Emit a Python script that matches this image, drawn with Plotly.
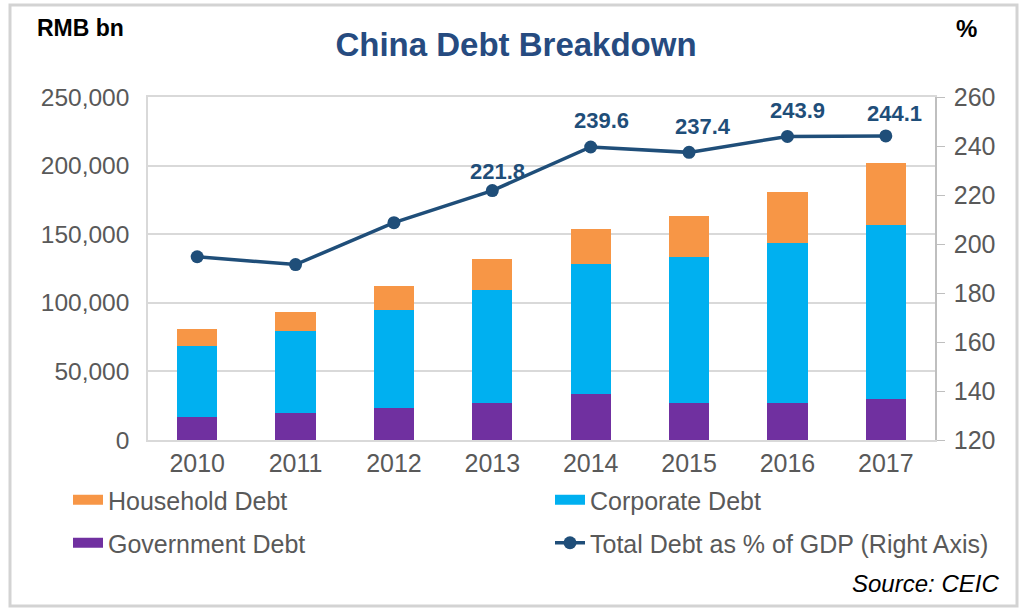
import plotly.graph_objects as go

years = ["2010", "2011", "2012", "2013", "2014", "2015", "2016", "2017"]
government = [16500, 19500, 23500, 26700, 33500, 26700, 26700, 29700]
corporate = [52200, 60200, 71200, 82600, 94800, 106400, 117100, 127000]
household = [12000, 13800, 17500, 22600, 25300, 30300, 37200, 45200]
debt_pct_gdp = [194.8, 191.6, 208.7, 221.8, 239.6, 237.4, 243.9, 244.1]
labelled = [False, False, False, True, True, True, True, True]

FONT = "Liberation Sans, Arial, sans-serif"
GRAY = "#595959"
NAVY = "#1F4E79"
C_HH, C_CORP, C_GOV = "#F79646", "#00B0F0", "#7030A0"

L, R, T, B = 148, 935, 97, 440
W, H = R - L, B - T


def px(x):
    return (x - L) / W


def py(y):
    return (B - y) / H


fig = go.Figure()
fig.add_trace(go.Bar(x=years, y=government, name="Government Debt", showlegend=False,
                     marker=dict(color=C_GOV, line=dict(width=0))))
fig.add_trace(go.Bar(x=years, y=corporate, name="Corporate Debt", showlegend=False,
                     marker=dict(color=C_CORP, line=dict(width=0))))
fig.add_trace(go.Bar(x=years, y=household, name="Household Debt", showlegend=False,
                     marker=dict(color=C_HH, line=dict(width=0))))
fig.add_trace(go.Scatter(x=years, y=debt_pct_gdp, name="Total Debt as % of GDP (Right Axis)",
                         yaxis="y2", mode="lines+markers", legend="legend4",
                         line=dict(color=NAVY, width=3.5),
                         marker=dict(color=NAVY, size=13)))

# legend-only entries drawn as wide swatches (like the reference legend)
for name, col, leg in [("Household Debt", C_HH, "legend"),
                       ("Corporate Debt", C_CORP, "legend2"),
                       ("Government Debt", C_GOV, "legend3")]:
    fig.add_trace(go.Scatter(x=[None], y=[None], mode="lines", name=name, legend=leg,
                             line=dict(color=col, width=14), hoverinfo="skip"))

label_shift = {3: (5, 19), 4: (11, 26), 5: (14, 26), 6: (10, 26), 7: (9, 22)}
annotations = []
for i, (v, show) in enumerate(zip(debt_pct_gdp, labelled)):
    if show:
        dx, dy = label_shift.get(i, (8, 25))
        annotations.append(dict(x=i, y=v, xref="x", yref="y2", text=f"{v:.1f}",
                                showarrow=False, xshift=dx, yshift=dy,
                                font=dict(family=FONT, size=22, color=NAVY, weight="bold")))

annotations += [
    dict(x=px(80), y=py(28), xref="paper", yref="paper", xanchor="center", yanchor="middle",
         text="RMB bn", showarrow=False,
         font=dict(family=FONT, size=23, color="#000000", weight="bold")),
    dict(x=px(966), y=py(29), xref="paper", yref="paper", xanchor="center", yanchor="middle",
         text="%", showarrow=False,
         font=dict(family=FONT, size=24, color="#000000", weight="bold")),
    dict(x=px(1001), y=py(583), xref="paper", yref="paper", xanchor="right", yanchor="middle",
         text="<i>Source: CEIC</i>", showarrow=False,
         font=dict(family=FONT, size=24, color="#000000")),
]

legend_common = dict(orientation="h", xanchor="left", yanchor="middle", itemwidth=30,
                     font=dict(family=FONT, size=25, color=GRAY),
                     bgcolor="rgba(0,0,0,0)")

fig.update_layout(
    width=1024, height=611,
    margin=dict(l=L, r=1024 - R, t=T, b=611 - B),
    paper_bgcolor="white", plot_bgcolor="white",
    barmode="stack", bargap=0.59,
    font=dict(family=FONT, size=25, color=GRAY),
    title=dict(text="<b>China Debt Breakdown</b>", x=516 / 1024, xanchor="center",
               y=1 - 44 / 611, yanchor="middle",
               font=dict(family=FONT, size=33, color="#264B80")),
    xaxis=dict(type="category", showline=True, linecolor="#D9D9D9", linewidth=1.5, mirror=True,
               ticks="", tickfont=dict(size=25, color=GRAY), fixedrange=True),
    yaxis=dict(range=[0, 250000], dtick=50000, tickformat=",", showgrid=True,
               gridcolor="#D9D9D9", gridwidth=1.5, showline=True, linecolor="#D9D9D9",
               linewidth=1.5, zeroline=False, ticks="", tickfont=dict(size=24.5, color=GRAY),
               ticklabelstandoff=12),
    yaxis2=dict(range=[120, 260], dtick=20, overlaying="y", side="right", showgrid=False,
                showline=True, linecolor="#BFBFBF", linewidth=1.5, ticks="outside",
                ticklen=8, tickcolor="#BFBFBF", zeroline=False,
                tickfont=dict(size=25, color=GRAY), ticklabelstandoff=4),
    legend=dict(x=px(68), y=py(500), **legend_common),
    legend2=dict(x=px(550), y=py(500), **legend_common),
    legend3=dict(x=px(68), y=py(543), **legend_common),
    legend4=dict(x=px(550), y=py(543), **legend_common),
    annotations=annotations,
    shapes=[dict(type="rect", xref="paper", yref="paper",
                 x0=px(10), x1=px(1017), y0=py(606), y1=py(5),
                 line=dict(color="#D3D3D3", width=3), layer="below")],
)

fig.write_html("out.html", config={"displayModeBar": False},
               post_script="document.body.style.margin='0px';")
